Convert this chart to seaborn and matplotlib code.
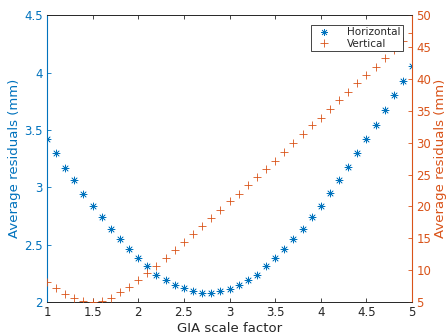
import numpy as np
import pandas as pd
import matplotlib
matplotlib.use("Agg")
import matplotlib.pyplot as plt
import seaborn as sns
from matplotlib.ticker import StrMethodFormatter
from matplotlib.lines import Line2D

# GIA scale factor steps
scale = [1.0, 1.1, 1.2, 1.3, 1.4, 1.5, 1.6, 1.7, 1.8, 1.9, 2.0,
         2.1, 2.2, 2.3, 2.4, 2.5, 2.6, 2.7, 2.8, 2.9, 3.0,
         3.1, 3.2, 3.3, 3.4, 3.5, 3.6, 3.7, 3.8, 3.9, 4.0,
         4.1, 4.2, 4.3, 4.4, 4.5, 4.6, 4.7, 4.8, 4.9, 5.0]

horizontal = [3.42, 3.30, 3.17, 3.06, 2.94, 2.84, 2.74, 2.64, 2.55, 2.46, 2.38,
              2.31, 2.24, 2.19, 2.15, 2.12, 2.10, 2.08, 2.08, 2.10, 2.11,
              2.15, 2.19, 2.24, 2.31, 2.38, 2.46, 2.55, 2.64, 2.74, 2.84,
              2.95, 3.06, 3.18, 3.30, 3.42, 3.54, 3.67, 3.80, 3.93, 4.06]

vertical = [8.2, 7.2, 6.3, 5.7, 5.1, 5.0, 5.1, 5.7, 6.5, 7.3, 8.4,
            9.5, 10.6, 11.9, 13.2, 14.4, 15.7, 17.0, 18.2, 19.5, 20.8,
            22.0, 23.3, 24.6, 25.9, 27.2, 28.6, 30.0, 31.3, 32.7, 33.9,
            35.3, 36.7, 38.0, 39.3, 40.6, 41.9, 43.2, 44.6, 45.9, 47.2]

df = pd.DataFrame({"scale": scale, "horizontal": horizontal, "vertical": vertical})

blue = "#0072BD"
orange = "#D95319"
grey = "#262626"

sns.set_style("white")
plt.rcParams["font.family"] = ["DejaVu Sans"]

fig = plt.figure(figsize=(4.47, 3.36), dpi=100)
ax = fig.add_axes([0.105, 0.101, 0.817, 0.854])
ax2 = ax.twinx()

star = (8, 2, 0)
sns.scatterplot(data=df, x="scale", y="horizontal", ax=ax, marker=star, s=26,
                color=blue, edgecolor=blue, linewidth=0.5, zorder=3)
sns.scatterplot(data=df, x="scale", y="vertical", ax=ax2, marker="+", s=38,
                color=orange, linewidth=0.6, zorder=3)

ax.set_xlim(1, 5)
ax.set_ylim(2, 4.5)
ax2.set_ylim(5, 50)
ax.set_xticks(np.arange(1, 5.01, 0.5))
ax.set_yticks(np.arange(2, 4.51, 0.5))
ax2.set_yticks(np.arange(5, 50.1, 5))
ax.xaxis.set_major_formatter(StrMethodFormatter("{x:g}"))
ax.yaxis.set_major_formatter(StrMethodFormatter("{x:g}"))

ax.set_xlabel("GIA scale factor", fontsize=9.5, color=grey, labelpad=2)
ax.set_ylabel("Average residuals (mm)", fontsize=9.5, color=blue, labelpad=2)
ax2.set_ylabel("Average residuals (mm)", fontsize=9.5, color=orange, labelpad=2)

ax.tick_params(axis="x", direction="in", top=True, bottom=True, length=3,
               width=0.6, colors=grey, labelsize=8.5, pad=3)
ax.tick_params(axis="y", direction="in", left=True, right=False, length=3,
               width=0.6, colors=blue, labelsize=8.5, pad=3)
ax2.tick_params(axis="y", direction="in", right=True, left=False, length=3,
                width=0.6, colors=orange, labelsize=8.5, pad=3)

for a in (ax, ax2):
    for side in ("top", "bottom"):
        a.spines[side].set_color(grey)
        a.spines[side].set_linewidth(0.6)
ax.spines["left"].set_color(blue)
ax.spines["right"].set_visible(False)
ax2.spines["left"].set_visible(False)
ax2.spines["right"].set_color(orange)
ax.spines["left"].set_linewidth(0.8)
ax2.spines["right"].set_linewidth(0.8)

handles = [
    Line2D([], [], linestyle="none", marker=star, color=blue, markersize=5, markeredgewidth=0.5),
    Line2D([], [], linestyle="none", marker="+", color=orange, markersize=6, markeredgewidth=0.6),
]
leg = ax2.legend(handles, ["Horizontal", "Vertical"], loc="upper right",
                 bbox_to_anchor=(0.975, 0.967), fontsize=7.5, frameon=True,
                 fancybox=False, framealpha=1, edgecolor=grey,
                 borderpad=0.25, labelspacing=0.15, handletextpad=1.2,
                 handlelength=2.0, borderaxespad=0)
leg.get_frame().set_linewidth(0.6)

fig.savefig("out.png", dpi=100)
